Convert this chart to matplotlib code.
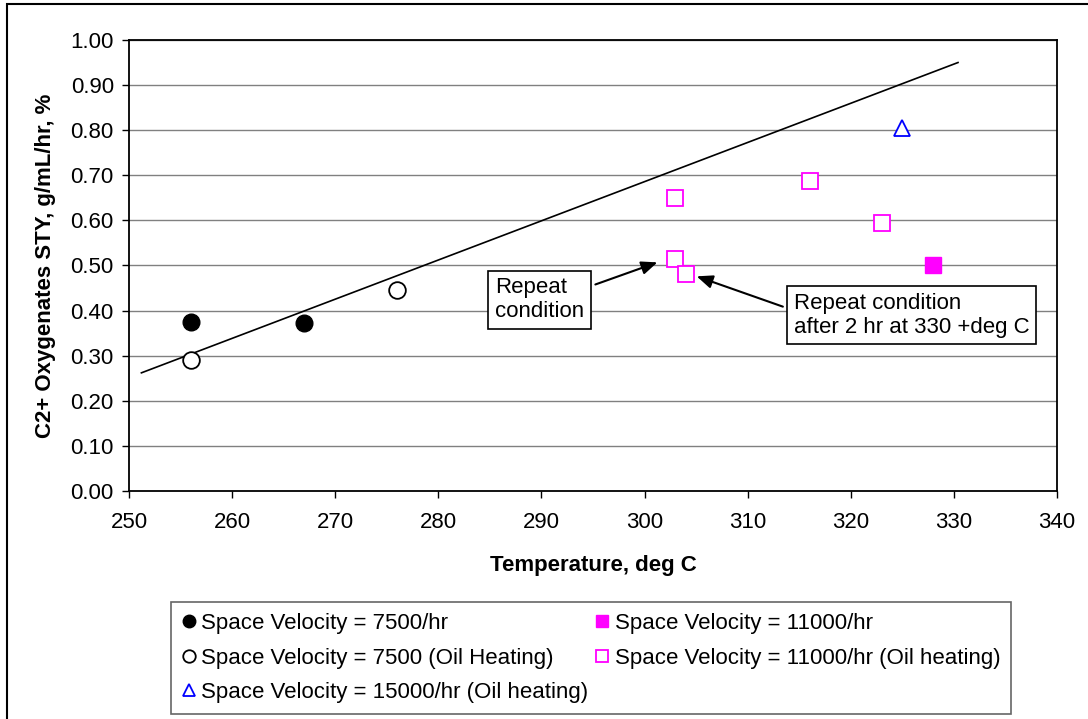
import matplotlib.pyplot as plt
from matplotlib.patches import Rectangle

plt.rcParams['font.family'] = ['Liberation Sans', 'DejaVu Sans']

# data points, temperature (deg C) vs C2+ oxygenates STY
t_7500 = [256, 267]
sty_7500 = [0.375, 0.372]
t_7500_oil = [256, 276]
sty_7500_oil = [0.290, 0.445]
t_11000 = [328]
sty_11000 = [0.500]
t_11000_oil = [303, 303, 304, 316, 323]
sty_11000_oil = [0.650, 0.515, 0.482, 0.688, 0.595]
t_15000_oil = [325]
sty_15000_oil = [0.805]

# trend line end points
trend_t = [251.2, 330.4]
trend_sty = [0.262, 0.950]

y_ticks = [0.0, 0.1, 0.2, 0.3, 0.4, 0.5, 0.6, 0.7, 0.8, 0.9, 1.0]
x_ticks = [250, 260, 270, 280, 290, 300, 310, 320, 330, 340]

FS = 16

fig = plt.figure(figsize=(10.88, 7.19), dpi=100)
ax = fig.add_axes([0.1186, 0.3171, 0.8529, 0.6273])

# outer chart border
fig.patches.append(Rectangle((7 / 1088, -0.1), 1.2, 1.1 - 4 / 719,
                             transform=fig.transFigure, fill=False,
                             edgecolor='black', linewidth=1.5))

for yv in y_ticks[1:]:
    ax.axhline(yv, color='#808080', linewidth=1, zorder=0)

ax.plot(trend_t, trend_sty, color='black', linewidth=1.2, zorder=2)

h1, = ax.plot(t_7500, sty_7500, 'o', color='black', markersize=12,
              linestyle='none', zorder=3, label='Space Velocity = 7500/hr')
h2, = ax.plot(t_7500_oil, sty_7500_oil, 'o', markerfacecolor='white',
              markeredgecolor='black', markeredgewidth=1.3, markersize=12,
              linestyle='none', zorder=3,
              label='Space Velocity = 7500 (Oil Heating)')
h3, = ax.plot(t_15000_oil, sty_15000_oil, '^', markerfacecolor='white',
              markeredgecolor='#0000ff', markeredgewidth=1.3, markersize=12,
              linestyle='none', zorder=3,
              label='Space Velocity = 15000/hr (Oil heating)')
h4, = ax.plot(t_11000, sty_11000, 's', color='#ff00ff', markersize=11,
              linestyle='none', zorder=3, label='Space Velocity = 11000/hr')
h5, = ax.plot(t_11000_oil, sty_11000_oil, 's', markerfacecolor='white',
              markeredgecolor='#ff00ff', markeredgewidth=1.3, markersize=11,
              linestyle='none', zorder=3,
              label='Space Velocity = 11000/hr (Oil heating)')

ax.set_xlim(250, 340)
ax.set_ylim(0, 1.0)
ax.set_xticks(x_ticks)
ax.set_yticks(y_ticks)
ax.set_yticklabels(['%.2f' % v for v in y_ticks])
ax.tick_params(direction='out', length=5, width=1, labelsize=FS, pad=6)
ax.tick_params(axis='x', pad=10)
for s in ax.spines.values():
    s.set_color('black')
    s.set_linewidth(1.3)

ax.set_xlabel('Temperature, deg C', fontsize=FS, fontweight='bold',
              labelpad=16)
ax.set_ylabel('C2+ Oxygenates STY, g/mL/hr, %', fontsize=FS,
              fontweight='bold', labelpad=10)

box = dict(boxstyle='square,pad=0.3', facecolor='white', edgecolor='black',
           linewidth=1.2)
arrow = dict(arrowstyle='-|>,head_length=0.6,head_width=0.25',
             color='black', linewidth=1.5, shrinkA=3, shrinkB=2)

ax.annotate('Repeat\ncondition', xy=(301.5, 0.509), xytext=(285.5, 0.424),
            fontsize=FS, va='center', ha='left', bbox=box,
            arrowprops=dict(arrow, relpos=(1.0, 0.75)), linespacing=1.2)
ax.annotate('Repeat condition\nafter 2 hr at 330 +deg C',
            xy=(304.8, 0.478), xytext=(314.5, 0.390),
            fontsize=FS, va='center', ha='left', bbox=box,
            arrowprops=dict(arrow, relpos=(0.0, 0.6)), linespacing=1.2)

leg = fig.legend(handles=[h1, h2, h3, h4, h5], ncol=2, loc='lower left',
                 bbox_to_anchor=(0.157, 0.007), fontsize=FS,
                 markerscale=0.75, handlelength=0.6, handletextpad=0.25,
                 columnspacing=0.35, labelspacing=0.6, borderpad=0.5,
                 borderaxespad=0, frameon=True, fancybox=False)
leg.get_frame().set_edgecolor('#404040')
leg.get_frame().set_linewidth(1.2)

fig.savefig('out.png', dpi=100)
